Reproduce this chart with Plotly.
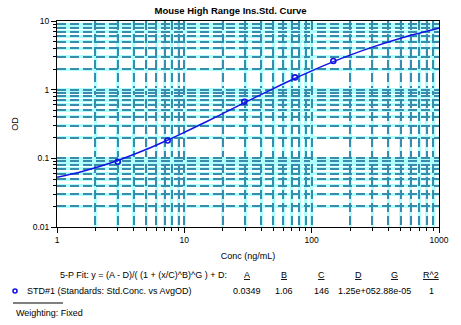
import plotly.graph_objects as go

# ---- data ----
std_conc = [3.0, 7.4, 29.6, 74.0, 148.0]
std_od = [0.089, 0.182, 0.668, 1.51, 2.62]

curve_conc = [1, 1.5, 2, 3, 5, 7, 10, 15, 20, 30, 50, 70, 100, 150, 200, 300, 500, 700, 1000]
curve_od = [0.0531, 0.0629, 0.0728, 0.0930, 0.1343, 0.176, 0.239, 0.344, 0.448, 0.652,
            1.036, 1.394, 1.880, 2.58, 3.18, 4.16, 5.61, 6.64, 7.82]

param_names = ["A", "B", "C", "D", "G", "R^2"]
param_values = ["0.0349", "1.06", "146", "1.25e+05", "2.88e-05", "1"]

x_major = [1, 10, 100, 1000]
y_major = [0.01, 0.1, 1, 10]
x_minor = [m * d for d in [1, 10, 100] for m in range(2, 10)]
y_minor = [m * d for d in [0.01, 0.1, 1] for m in range(2, 10)]

# ---- layout geometry (pixels) ----
W, H = 461, 325
L, R, T, B = 57, 22, 21, 98
PW, PH = W - L - R, H - T - B

def px(x):
    return (x - L) / PW

def py(y):
    return (H - B - y) / PH

FONT = "Liberation Sans, Arial, sans-serif"
BLUE = "#1414e6"
CYAN = "#b0ffff"
TEAL = "#3a8cad"
DASH = "9px,4px"

fig = go.Figure()
fig.add_trace(go.Scatter(x=curve_conc, y=curve_od, mode="lines", line=dict(color=BLUE, width=1.5, shape="spline"),
                         showlegend=False, hoverinfo="skip"))
fig.add_trace(go.Scatter(x=std_conc, y=std_od, mode="markers",
                         marker=dict(symbol="circle-open", size=5, color=BLUE, line=dict(width=1.6, color=BLUE)),
                         name="STD#1 (Standards: Std.Conc. vs AvgOD)", showlegend=False))
# overlay axes carry the dashed grid
fig.add_trace(go.Scatter(x=[], y=[], xaxis="x2", yaxis="y2", showlegend=False, hoverinfo="skip"))

tickfont = dict(family=FONT, size=8.5, color="black")
common = dict(type="log", showline=True, linecolor="black", linewidth=1, mirror=True,
              ticks="outside", ticklen=5, tickcolor="black", tickwidth=1,
              showgrid=True, gridcolor=CYAN, gridwidth=3, zeroline=False,
              tickfont=tickfont, tickmode="array")

fig.update_layout(
    width=W, height=H,
    margin=dict(l=L, r=R, t=T, b=B),
    paper_bgcolor="white", plot_bgcolor="white",
    title=dict(text="<b>Mouse High Range Ins.Std. Curve</b>", x=px((L + W - R) / 2), xanchor="center",
               y=1 - 11 / H, yanchor="middle", font=dict(family=FONT, size=9.5, color="black")),
    xaxis=dict(range=[0, 3], tickvals=x_major, ticktext=["1", "10", "100", "1000"],
               minor=dict(tickmode="array", tickvals=x_minor, ticks="outside", ticklen=3, tickcolor="black",
                          showgrid=True, gridcolor=CYAN, gridwidth=3),
               title=dict(text="Conc (ng/mL)", font=dict(family=FONT, size=9, color="black"), standoff=8),
               **common),
    yaxis=dict(range=[-2, 1], tickvals=y_major, ticktext=["0.01", "0.1", "1", "10"],
               minor=dict(tickmode="array", tickvals=y_minor, ticks="outside", ticklen=3, tickcolor="black",
                          showgrid=True, gridcolor=CYAN, gridwidth=3),
               title=dict(text="OD", font=dict(family=FONT, size=9, color="black"), standoff=12),
               **common),
    xaxis2=dict(type="log", range=[0, 3], overlaying="x", showline=False, showticklabels=False, ticks="",
                tickmode="array", tickvals=x_major, showgrid=True, gridcolor=TEAL, gridwidth=2,
                griddash=DASH, zeroline=False,
                minor=dict(tickmode="array", tickvals=x_minor, showgrid=True, gridcolor=TEAL,
                           gridwidth=2, griddash=DASH)),
    yaxis2=dict(type="log", range=[-2, 1], overlaying="y", showline=False, showticklabels=False, ticks="",
                tickmode="array", tickvals=y_major, showgrid=True, gridcolor=TEAL, gridwidth=2,
                griddash=DASH, zeroline=False,
                minor=dict(tickmode="array", tickvals=y_minor, showgrid=True, gridcolor=TEAL,
                           gridwidth=2, griddash=DASH)),
    showlegend=False,
)

tf = dict(family=FONT, size=9, color="black")
ann = []
ann.append(dict(text="5-P Fit: y = (A - D)/( (1 + (x/C)^B)^G ) + D:", x=px(229), y=py(275),
                xanchor="right", yanchor="middle"))
col_x = [247, 284, 321, 358, 394, 431]
for name, cx in zip(param_names, col_x):
    ann.append(dict(text="<u>%s</u>" % name, x=px(cx), y=py(275), xanchor="center", yanchor="middle"))
ann.append(dict(text="STD#1 (Standards: Std.Conc. vs AvgOD)", x=px(25), y=py(291), xanchor="left", yanchor="middle"))
for i in range(3):
    ann.append(dict(text=param_values[i], x=px(col_x[i]), y=py(291), xanchor="center", yanchor="middle"))
ann.append(dict(text=param_values[3] + param_values[4], x=px(374.5), y=py(291), xanchor="center", yanchor="middle"))
ann.append(dict(text=param_values[5], x=px(col_x[5]), y=py(291), xanchor="center", yanchor="middle"))
ann.append(dict(text="Weighting: Fixed", x=px(14), y=py(313), xanchor="left", yanchor="middle"))
for a in ann:
    a.update(xref="paper", yref="paper", showarrow=False, font=tf)
fig.update_layout(annotations=ann)

fig.add_shape(type="line", xref="paper", yref="paper", x0=px(13), x1=px(63), y0=py(303), y1=py(303),
              line=dict(color="black", width=1))
fig.add_shape(type="circle", xref="paper", yref="paper", x0=px(13), x1=px(17), y0=py(289), y1=py(293),
              line=dict(color=BLUE, width=1.6))

fig.write_html("out.html")
